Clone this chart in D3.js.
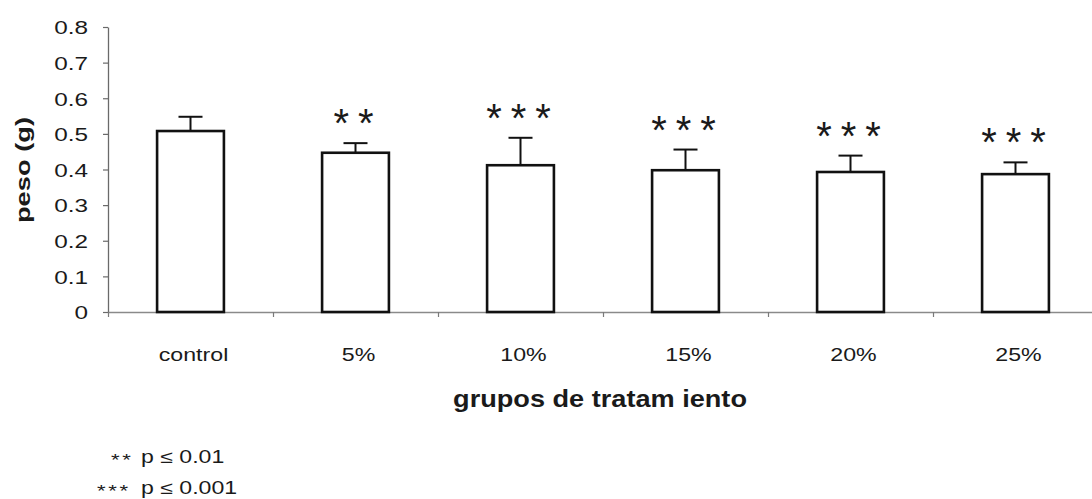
<!DOCTYPE html>
<html>
<head>
<meta charset="utf-8">
<script src="https://cdn.jsdelivr.net/npm/d3@7"></script>
<style>
  html, body { margin: 0; padding: 0; background: #ffffff; }
  svg { display: block; font-family: Arial, "Liberation Sans", sans-serif; }
</style>
</head>
<body>
<svg id="chart" width="1092" height="499"></svg>
<script>
// Treatment groups and mean weight (g) with standard deviation
const categories = ["control", "5%", "10%", "15%", "20%", "25%"];
const means = [0.508, 0.447, 0.412, 0.398, 0.393, 0.387];
const errors = [0.040, 0.027, 0.077, 0.058, 0.046, 0.033];
const significance = ["", "**", "***", "***", "***", "***"];

// Axis ticks
const yTicks = [0, 0.1, 0.2, 0.3, 0.4, 0.5, 0.6, 0.7, 0.8];
const yTickLabels = ["0", "0.1", "0.2", "0.3", "0.4", "0.5", "0.6", "0.7", "0.8"];

// Titles and footnote
const yTitle = "peso (g)";
const xTitle = "grupos de tratam iento";
const footStars = ["**", "***"];
const footText = ["p \u2264 0.01", "p \u2264 0.001"];

const svg = d3.select("#chart");
const ink = "#1a1a1a";
const FONT = "Arial, 'Liberation Sans', sans-serif";

const plotLeft = 108, plotBottom = 312, plotTop = 27, stepW = 165;
const x = d3.scaleBand()
  .domain(categories)
  .range([plotLeft, plotLeft + stepW * categories.length])
  .padding(0);
const y = d3.scaleLinear().domain([0, 0.8]).range([plotBottom, plotTop]);
const barW = x.bandwidth() * 0.405;

// category boundaries for the x tick marks
const xEdge = d3.scaleLinear().domain([0, categories.length]).range(x.range());

// ---- y axis ----
const yStretch = 1.28;
const yAxis = svg.append("g")
  .attr("transform", `translate(${plotLeft},0)`)
  .call(d3.axisLeft(y)
    .tickValues(yTicks)
    .tickFormat((d, i) => yTickLabels[i])
    .tickSize(5)
    .tickSizeOuter(0));
yAxis.select(".domain").attr("stroke", "#6a6a6a").attr("stroke-width", 1.3);
yAxis.selectAll(".tick line").attr("stroke", "#6a6a6a").attr("stroke-width", 1.2);
yAxis.selectAll(".tick text")
  .attr("x", -20 / yStretch)
  .attr("dy", "0.36em")
  .attr("transform", `scale(${yStretch},1)`)
  .attr("fill", ink)
  .style("font-size", "19px")
  .style("font-family", FONT);

// ---- x axis: boundary ticks ----
const xAxis = svg.append("g")
  .attr("transform", `translate(0,${plotBottom})`)
  .call(d3.axisBottom(xEdge)
    .tickValues(d3.range(categories.length + 1))
    .tickFormat("")
    .tickSize(5)
    .tickSizeOuter(0));
xAxis.select(".domain").attr("stroke", "#8a8a8a").attr("stroke-width", 1.4);
xAxis.selectAll(".tick line").attr("stroke", "#7a7a7a").attr("stroke-width", 1.2);

// ---- x category labels ----
const xStretch = 1.22;
const xLab = svg.append("g")
  .attr("transform", `translate(0,${plotBottom})`)
  .call(d3.axisBottom(x).tickSize(0).tickSizeOuter(0));
xLab.select(".domain").remove();
xLab.selectAll(".tick text")
  .attr("y", 0)
  .attr("dy", 0)
  .attr("transform", `translate(3,49) scale(${xStretch},1)`)
  .attr("fill", ink)
  .style("font-size", "19px")
  .style("font-family", FONT);

// ---- bars ----
svg.append("g").selectAll("rect")
  .data(categories)
  .join("rect")
  .attr("x", d => x(d) + (x.bandwidth() - barW) / 2)
  .attr("y", (d, i) => y(means[i]))
  .attr("width", barW)
  .attr("height", (d, i) => y(0) - y(means[i]))
  .attr("fill", "#ffffff")
  .attr("stroke", "#111")
  .attr("stroke-width", 2.6);

// ---- error bars (upper only) ----
const eb = svg.append("g").attr("stroke", "#111").attr("stroke-width", 2);
eb.selectAll("line.stem")
  .data(categories)
  .join("line")
  .attr("class", "stem")
  .attr("x1", d => x(d) + x.bandwidth() / 2)
  .attr("x2", d => x(d) + x.bandwidth() / 2)
  .attr("y1", (d, i) => y(means[i]))
  .attr("y2", (d, i) => y(means[i] + errors[i]));
eb.selectAll("line.cap")
  .data(categories)
  .join("line")
  .attr("class", "cap")
  .attr("x1", d => x(d) + x.bandwidth() / 2 - 12)
  .attr("x2", d => x(d) + x.bandwidth() / 2 + 12)
  .attr("y1", (d, i) => y(means[i] + errors[i]))
  .attr("y2", (d, i) => y(means[i] + errors[i]));

// ---- significance asterisks ----
const starGap = 24.5;
categories.forEach((c, i) => {
  const s = significance[i];
  if (!s) return;
  const cx = x(c) + x.bandwidth() / 2 - 2;
  const cy = y(means[i] + errors[i]) - 26;
  const n = s.length;
  svg.append("g").selectAll("text")
    .data(d3.range(n))
    .join("text")
    .attr("x", k => cx + (k - (n - 1) / 2) * starGap)
    .attr("y", cy + 20)
    .attr("text-anchor", "middle")
    .attr("fill", "#1a1a1a")
    .style("font-size", "40px")
    .style("font-family", FONT)
    .text("*");
});

// ---- axis titles ----
svg.append("text")
  .attr("transform", "translate(600,407) scale(1.18,1)")
  .attr("text-anchor", "middle")
  .attr("fill", ink)
  .style("font-size", "23px")
  .style("font-weight", "bold")
  .text(xTitle);

svg.append("text")
  .attr("transform", "translate(30,170) rotate(-90) scale(1.3,1)")
  .attr("text-anchor", "middle")
  .attr("fill", ink)
  .style("font-size", "21px")
  .style("font-weight", "bold")
  .text(yTitle);

// ---- footnote ----
const foot = svg.append("g");
footText.forEach((t, i) => {
  const by = 463 + i * 31;
  foot.append("text")
    .attr("transform", `translate(${i === 0 ? 111 : 97},${by + 3}) scale(1.3,1)`)
    .attr("fill", ink)
    .style("font-size", "17px")
    .style("letter-spacing", "2px")
    .text(footStars[i]);
  foot.append("text")
    .attr("transform", `translate(141,${by}) scale(1.32,1)`)
    .attr("fill", ink)
    .style("font-size", "17.5px")
    .text(t);
});
</script>
</body>
</html>
